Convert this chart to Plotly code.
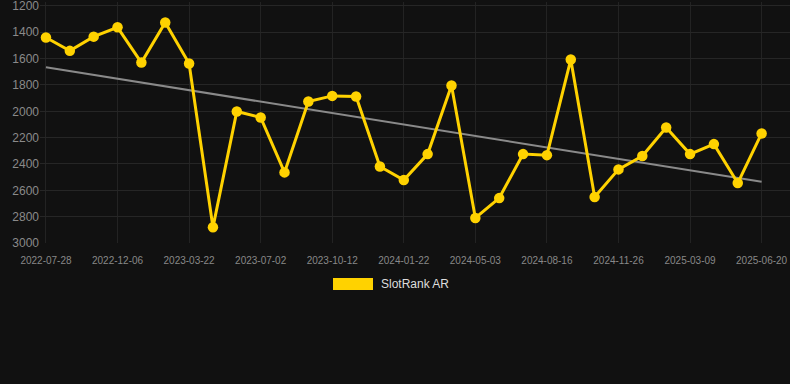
import numpy as np
import plotly.graph_objects as go

dates = [
    "2022-07-28", "2022-09-10", "2022-10-23", "2022-12-06", "2023-01-10",
    "2023-02-14", "2023-03-22", "2023-04-25", "2023-05-29", "2023-07-02",
    "2023-08-05", "2023-09-08", "2023-10-12", "2023-11-15", "2023-12-19",
    "2024-01-22", "2024-02-25", "2024-03-30", "2024-05-03", "2024-06-06",
    "2024-07-11", "2024-08-16", "2024-09-19", "2024-10-23", "2024-11-26",
    "2024-12-30", "2025-02-03", "2025-03-09", "2025-04-12", "2025-05-16",
    "2025-06-20",
]
rank = [
    1440, 1541, 1433, 1362, 1630, 1326, 1637, 2881, 2001, 2047,
    2464, 1926, 1883, 1888, 2419, 2522, 2325, 1804, 2810, 2659,
    2325, 2333, 1607, 2651, 2441, 2340, 2123, 2325, 2249, 2545,
    2168,
]
tick_labels = dates[::3]
y_ticks = [1200, 1400, 1600, 1800, 2000, 2200, 2400, 2600, 2800, 3000]
series_name = "SlotRank AR"

idx = np.arange(len(rank))
slope, intercept = np.polyfit(idx, rank, 1)
trend = slope * idx + intercept

GOLD = "#FFD200"
BG = "#111111"
FONT = "Liberation Sans, Arial, sans-serif"

PLOT_TOP = 2
PLOT_H = 241
PLOT_BOTTOM = PLOT_TOP + PLOT_H
PLOT_L = 40
PLOT_W = 750


def py(pixel_y):
    return (PLOT_BOTTOM - pixel_y) / PLOT_H


def px(pixel_x):
    return (pixel_x - PLOT_L) / PLOT_W


fig = go.Figure()
fig.add_trace(go.Scatter(
    x=dates, y=trend, mode="lines",
    line=dict(color="#8a8a8a", width=2),
    showlegend=False, hoverinfo="skip",
))
fig.add_trace(go.Scatter(
    x=dates, y=rank, mode="lines+markers", name=series_name,
    line=dict(color=GOLD, width=3),
    marker=dict(color=GOLD, size=10.5),
    showlegend=False,
))

fig.update_layout(
    width=790, height=384,
    paper_bgcolor=BG, plot_bgcolor=BG,
    margin=dict(l=PLOT_L, r=0, t=PLOT_TOP, b=384 - PLOT_BOTTOM),
    font=dict(family=FONT, color="#8a8a8a"),
    xaxis=dict(
        type="category",
        range=[-0.25, 31.19],
        tickmode="array", tickvals=tick_labels, ticktext=tick_labels,
        tickfont=dict(size=10, color="#888888"),
        ticklabelstandoff=10,
        ticklabeloverflow="allow",
        showgrid=True, gridcolor="#232323", gridwidth=1,
        zeroline=False, showline=False, ticks="",
    ),
    yaxis=dict(
        range=[3000, 1170],
        tickmode="array", tickvals=y_ticks,
        tickfont=dict(size=12, color="#8a8a8a"),
        ticklabeloverflow="allow",
        showgrid=True, gridcolor="#262626", gridwidth=1,
        zeroline=False, showline=False, ticks="",
    ),
    shapes=[dict(
        type="rect", xref="paper", yref="paper",
        x0=px(333), x1=px(373),
        y0=py(290), y1=py(278),
        fillcolor=GOLD, line=dict(width=0),
    )],
    annotations=[dict(
        text=series_name, xref="paper", yref="paper",
        x=px(379), y=py(284),
        xanchor="left", yanchor="middle", showarrow=False,
        font=dict(size=12, color="#dddddd", family=FONT),
    )],
)

fig.write_html(
    "out.html",
    config={"displayModeBar": False},
    post_script="document.body.style.margin='0';document.body.style.background='#111111';",
)
